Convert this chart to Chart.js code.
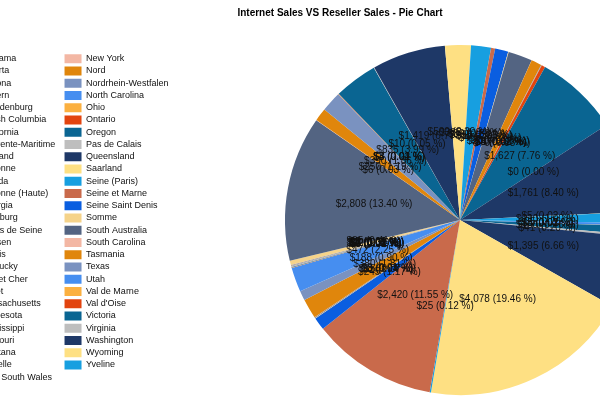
<!DOCTYPE html>
<html>
<head>
<meta charset="utf-8">
<script src="https://cdn.jsdelivr.net/npm/chart.js@4/dist/chart.umd.min.js"></script>
<style>
  html, body { margin: 0; padding: 0; background: #fff; overflow: hidden; width: 600px; height: 400px; }
  #wrap { position: absolute; left: -44px; top: 0; width: 768px; height: 400px; }
</style>
</head>
<body>
<div id="wrap"><canvas id="pieChart"></canvas></div>
<script>
// states / provinces, alphabetical like the legend
const states = [
  'Alabama', 'Alberta', 'Arizona', 'Bayern', 'Brandenburg', 'British Columbia',
  'California', 'Charente-Maritime', 'England', 'Essonne', 'Florida', 'Garonne (Haute)',
  'Georgia', 'Hamburg', 'Hauts de Seine', 'Hessen', 'Illinois', 'Kentucky',
  'Loir et Cher', 'Loiret', 'Massachusetts', 'Minnesota', 'Mississippi', 'Missouri',
  'Montana', 'Moselle', 'New South Wales', 'New York', 'Nord', 'Nordrhein-Westfalen',
  'North Carolina', 'Ohio', 'Ontario', 'Oregon', 'Pas de Calais', 'Queensland',
  'Saarland', 'Seine (Paris)', 'Seine et Marne', 'Seine Saint Denis', 'Somme', 'South Australia',
  'South Carolina', 'Tasmania', 'Texas', 'Utah', 'Val de Marne', "Val d'Oise",
  'Victoria', 'Virginia', 'Washington', 'Wyoming', 'Yveline'
];

const sales = [
  55, 5, 3, 160, 41, 1395,
  4078, 25, 2420, 245, 8, 15,
  3, 380, 188, 472, 5, 3,
  12, 20, 3, 4, 2, 3,
  5, 85, 2808, 6, 250, 390,
  3, 4, 8, 835, 10, 1419,
  500, 385, 80, 255, 10, 465,
  2, 200, 5, 4, 6, 70,
  1627, 0.4, 1761, 5, 210
];

const palette = [
  '#468ef0', '#fbb040', '#e2440f', '#0a6592', '#bebebe',
  '#1e3867', '#fee083', '#179fe0', '#c96a4b', '#0a5ee0',
  '#f5d38a', '#536482', '#f3b7a4', '#e0860c', '#7a92c0'
];

const LEGEND_W = 240;
const COL_GAP = 6;

// widen the legend box so the pie sits where it does in the original
const legendFit = {
  id: 'legendFit',
  beforeLayout(chart) {
    const lg = chart.legend;
    if (!lg || lg._wide) return;
    const fit = lg.fit;
    lg.fit = function () {
      fit.call(this);
      if (this.columnSizes && this.columnSizes.length > 1) {
        this.columnSizes[0].width += COL_GAP;
      }
      this.width = LEGEND_W;
    };
    lg._wide = true;
  }
};

// "$x (y %)" labels in the middle of each slice
const sliceLabels = {
  id: 'sliceLabels',
  afterDatasetsDraw(chart) {
    const ctx = chart.ctx;
    const meta = chart.getDatasetMeta(0);
    const total = sales.reduce((a, b) => a + b, 0);
    ctx.save();
    ctx.font = '10px "Liberation Sans", Arial, sans-serif';
    ctx.fillStyle = '#111';
    ctx.textAlign = 'center';
    ctx.textBaseline = 'middle';
    meta.data.forEach((arc, i) => {
      const p = arc.tooltipPosition(true);
      const v = sales[i];
      const txt = '$' + Math.round(v).toLocaleString('en-US') + ' (' + (v / total * 100).toFixed(2) + ' %)';
      ctx.fillText(txt, p.x, p.y);
    });
    ctx.restore();
  }
};

const ctx = document.getElementById('pieChart');
new Chart(ctx, {
  type: 'pie',
  data: {
    labels: states,
    datasets: [{
      data: sales,
      backgroundColor: states.map((s, i) => palette[i % palette.length]),
      borderWidth: 0
    }]
  },
  options: {
    responsive: true,
    maintainAspectRatio: false,
    animation: false,
    rotation: 91,
    layout: { padding: { bottom: 5 } },
    plugins: {
      title: {
        display: true,
        text: 'Internet Sales VS Reseller Sales - Pie Chart',
        color: '#000',
        font: { family: '"Liberation Sans", Arial, sans-serif', size: 10, weight: 'bold' },
        padding: { top: 7, bottom: 26 }
      },
      legend: {
        position: 'left',
        align: 'start',
        fullSize: false,
        title: { display: true, text: ' ', font: { size: 5 }, padding: 0 },
        labels: {
          color: '#111',
          font: { family: '"Liberation Sans", Arial, sans-serif', size: 9 },
          boxWidth: 17,
          boxHeight: 9,
          padding: 3.25
        }
      },
      tooltip: { enabled: false }
    }
  },
  plugins: [legendFit, sliceLabels]
});
</script>
</body>
</html>
